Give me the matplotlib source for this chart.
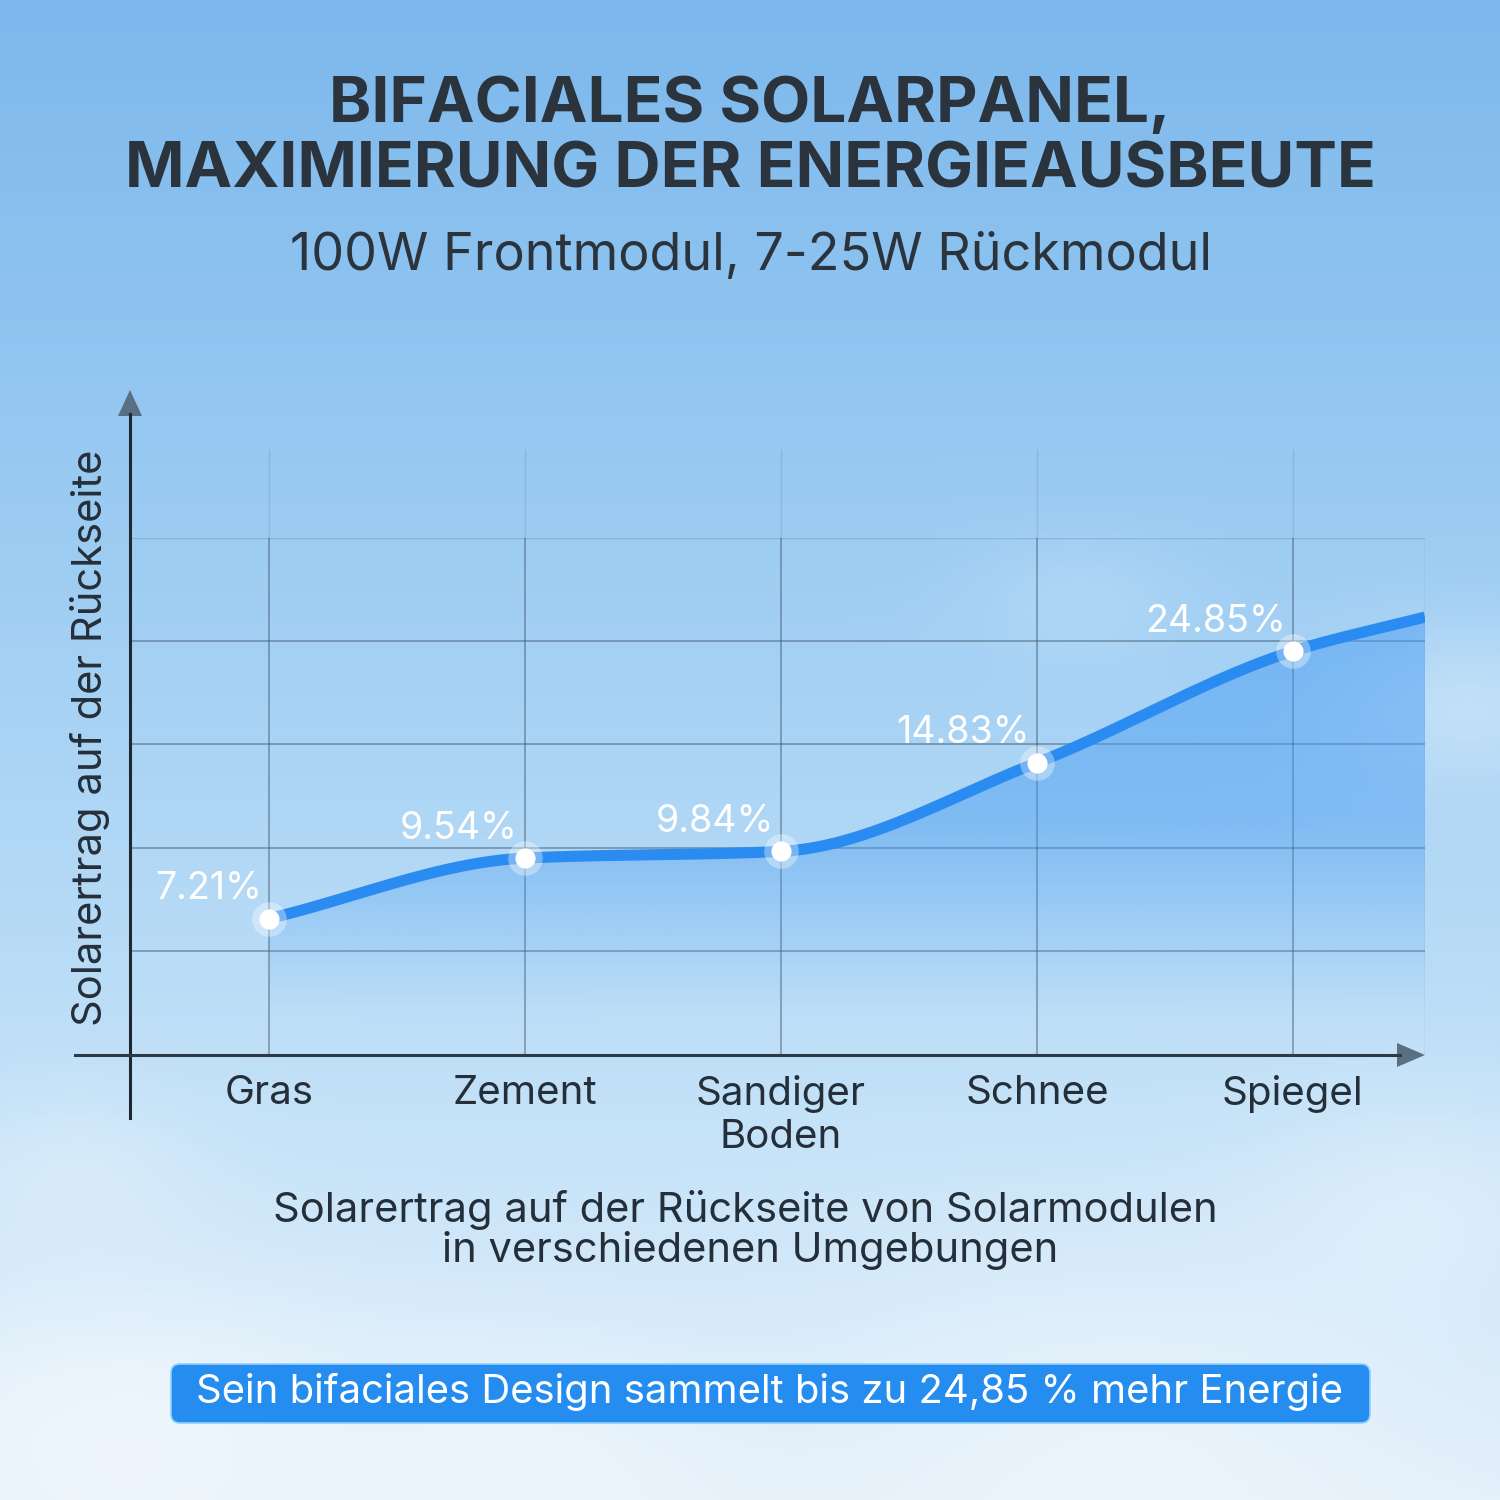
import numpy as np
import matplotlib.pyplot as plt
from matplotlib.patches import FancyBboxPatch, Polygon
from matplotlib.lines import Line2D

plt.rcParams['font.family'] = ['Inter', 'DejaVu Sans']

# data
categories = ["Gras", "Zement", "Sandiger\nBoden", "Schnee", "Spiegel"]
yield_pct = [7.21, 9.54, 9.84, 14.83, 24.85]
value_labels = ["7.21%", "9.54%", "9.84%", "14.83%", "24.85%"]
tail_pct = 29.1  # level where the curve leaves the plot on the right

title_lines = ["BIFACIALES SOLARPANEL,", "MAXIMIERUNG DER ENERGIEAUSBEUTE"]
subtitle = "100W Frontmodul, 7-25W Rückmodul"
ylabel = "Solarertrag auf der Rückseite"
caption_lines = ["Solarertrag auf der Rückseite von Solarmodulen",
                 "in verschiedenen Umgebungen"]
banner = "Sein bifaciales Design sammelt bis zu 24,85 % mehr Energie"

DARK = "#252f3a"
BLUE = "#2a8cf0"

W = H = 1500


def fx(px):
    return px / W


def fy(py):
    return 1 - py / H


def pchip(x, y, xs):
    # monotone cubic (Fritsch-Carlson)
    x = np.asarray(x, float)
    y = np.asarray(y, float)
    h = np.diff(x)
    d = np.diff(y) / h
    m = np.zeros_like(y)
    m[0], m[-1] = d[0], d[-1]
    for k in range(1, len(x) - 1):
        if d[k - 1] * d[k] > 0:
            w1 = 2 * h[k] + h[k - 1]
            w2 = h[k] + 2 * h[k - 1]
            m[k] = (w1 + w2) / (w1 / d[k - 1] + w2 / d[k])
    idx = np.clip(np.searchsorted(x, xs) - 1, 0, len(x) - 2)
    t = (xs - x[idx]) / h[idx]
    h00 = 2 * t**3 - 3 * t**2 + 1
    h10 = t**3 - 2 * t**2 + t
    h01 = -2 * t**3 + 3 * t**2
    h11 = t**3 - t**2
    return (h00 * y[idx] + h10 * h[idx] * m[idx]
            + h01 * y[idx + 1] + h11 * h[idx] * m[idx + 1])


fig = plt.figure(figsize=(15, 15), dpi=100)

# sky background
bg = fig.add_axes([0, 0, 1, 1], zorder=-10)
n = 400
yy, xx = np.mgrid[0:1:n * 1j, 0:1:n * 1j]
stops = np.array([0.0, 0.45, 0.75, 1.0])
cols = np.array([[124, 184, 236], [165, 209, 244], [196, 226, 248], [226, 239, 250]]) / 255
img = np.stack([np.interp(yy, stops, cols[:, c]) for c in range(3)], axis=-1)
clouds = [(0.08, 0.95, 0.12, 0.5), (0.35, 0.97, 0.10, 0.35), (0.75, 0.95, 0.15, 0.35),
          (0.98, 0.47, 0.06, 0.3), (0.72, 0.40, 0.05, 0.15), (0.05, 0.78, 0.06, 0.25),
          (0.95, 0.80, 0.08, 0.3)]
for cx, cy, r, a in clouds:
    g = a * np.exp(-((xx - cx) ** 2 + ((yy - cy) * 1.6) ** 2) / (2 * r**2))
    img = img + (1 - img) * g[..., None]
bg.imshow(img, extent=[0, 1, 0, 1], aspect='auto', origin='upper')
bg.set_axis_off()

# chart area
ax = fig.add_axes([fx(130), fy(1054), fx(1425) - fx(130), fy(538) - fy(1054)])
ax.patch.set_alpha(0)
ax.set_yscale('log')
ax.set_xlim(-0.543, 4.516)
ax.set_ylim(3.853, 41.95)
for s in ax.spines.values():
    s.set_visible(False)

# grid
for f in [0.2, 0.4, 0.6, 0.8]:
    ax.plot([0, 1], [f, f], transform=ax.transAxes, color="#3c5063", lw=1.1, alpha=0.55, zorder=1)
ax.plot([0, 1], [1, 1], transform=ax.transAxes, color="#3c5063", lw=1.0, alpha=0.2, zorder=1)
xs_grid = list(range(len(categories)))
for i in xs_grid:
    ax.axvline(i, 0, 1, color="#3c5063", lw=1.1, alpha=0.55, zorder=1)
    ax.axvline(i, 1, 1.17, color="#3c5063", lw=1.0, alpha=0.15, zorder=1, clip_on=False)
ax.plot([1, 1], [0, 1], transform=ax.transAxes, color="#3c5063", lw=1.0, alpha=0.3, zorder=1)

# curve
xp = np.arange(len(yield_pct) + 1, dtype=float)
xp[-1] = ax.get_xlim()[1]
lp = np.log(np.array(yield_pct + [tail_pct]))
xs = np.linspace(0, xp[-1], 600)
ys = np.exp(pchip(xp, lp, xs))

poly = ax.fill_between(xs, ys, ax.get_ylim()[0], color='none', lw=0)
grad = np.zeros((300, 2, 4))
gy = np.linspace(538, 1054, 300)
grad[..., 0], grad[..., 1], grad[..., 2] = 70 / 255, 155 / 255, 242 / 255
grad[..., 3] = np.interp(gy, [538, 820, 1010], [0.5, 0.45, 0.0])[:, None]
im = ax.imshow(grad, extent=[0, 1, 0, 1], transform=ax.transAxes, aspect='auto',
               origin='upper', zorder=2)
im.set_clip_path(poly.get_paths()[0], transform=ax.transData)

ax.plot(xs, ys, color=BLUE, lw=8, solid_capstyle='butt', zorder=3)

xpts = np.arange(len(yield_pct))
ax.scatter(xpts, yield_pct, s=620, color='white', alpha=0.35, lw=0, zorder=4)
ax.scatter(xpts, yield_pct, s=210, color='white', lw=0, zorder=5)
for i, (v, lbl) in enumerate(zip(yield_pct, value_labels)):
    ax.annotate(lbl, (i, v), xytext=(-5, 14), textcoords='offset points',
                ha='right', va='baseline', color='white', fontsize=27, zorder=6)

ax.set_yticks([])
ax.minorticks_off()
ax.set_xticks(xpts)
ax.set_xticklabels(categories, fontsize=29, color=DARK, linespacing=1.2)
ax.tick_params(axis='x', length=0, pad=15)

# axes with arrows
fig.add_artist(Line2D([fx(130), fx(130)], [fy(1118), fy(414)], color="#1d2833", lw=2.2))
fig.add_artist(Polygon([[fx(118), fy(416)], [fx(142), fy(416)], [fx(130), fy(390)]],
                       closed=True, color="#5a6f82", lw=0))
fig.add_artist(Line2D([fx(75), fx(1400)], [fy(1055), fy(1055)], color="#2c3a47", lw=2.2))
fig.add_artist(Polygon([[fx(1397), fy(1043)], [fx(1397), fy(1067)], [fx(1425), fy(1055)]],
                       closed=True, color="#5a6f82", lw=0))

fig.text(fx(90), fy(738), ylabel, rotation=90, ha='center', va='center',
         fontsize=30, color=DARK)

# titles
fig.text(0.5, fy(122), title_lines[0], ha='center', va='baseline', fontsize=46,
         fontweight='bold', color="#2b333d")
fig.text(0.5, fy(187), title_lines[1], ha='center', va='baseline', fontsize=46,
         fontweight='bold', color="#2b333d")
fig.text(fx(751), fy(270), subtitle, ha='center', va='baseline', fontsize=37.5, color="#2b333d")

fig.text(fx(745), fy(1210), caption_lines[0], ha='center', va='center', fontsize=30, color=DARK)
fig.text(fx(750), fy(1250), caption_lines[1], ha='center', va='center', fontsize=30, color=DARK)

# banner
fig.add_artist(FancyBboxPatch((fx(171), fy(1423)), fx(1370) - fx(171), fy(1364) - fy(1423),
                              boxstyle="round,pad=0,rounding_size=0.006",
                              fc="#258cf0", ec="#8fd0ff", lw=1.2))
fig.text(fx(770), fy(1392), banner, ha='center', va='center', fontsize=28.8, color='white')

fig.savefig("out.png", dpi=100)
